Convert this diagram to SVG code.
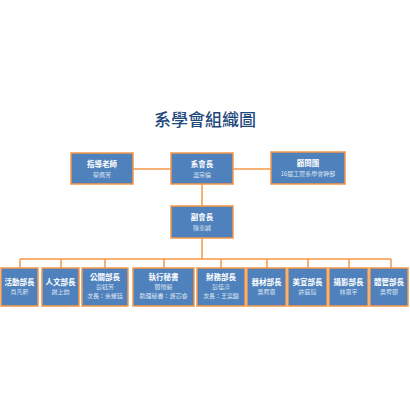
<svg xmlns="http://www.w3.org/2000/svg" width="410" height="410" viewBox="0 0 410 410">
<style>
.box{fill:#4F81BD;stroke:#F79646;stroke-width:1.5}
.t{font-family:"Noto Sans CJK TC","Noto Sans CJK SC",sans-serif;fill:#fff;text-anchor:middle}
.h{font-size:7.5px;font-weight:bold}
.n{font-size:6px;fill:#DCE6F2}
.c{fill:none;stroke:#F79646;stroke-width:1.5}
.title{font-family:"Noto Sans CJK TC","Noto Sans CJK SC",sans-serif;font-size:17px;font-weight:500;fill:#1F497D;text-anchor:middle}
</style>
<rect width="410" height="410" fill="#fff"/>
<text class="title" x="205" y="126">系學會組織圖</text>
<g id="connectors">
<path class="c" d="M133 169H171M233 169H271M202 184V206M202 238V259M20 259H391M20 259V268M61 259V268M105 259V268M164 259V268M221 259V268M267 259V268M308 259V268M349 259V268M391 259V268"/>
</g>
<g id="advisor"><rect class="box" x="71" y="153" width="62" height="31"/><text class="t h" x="102" y="167">指導老師</text><text class="t n" x="102" y="177">蔡佩芳</text></g>
<g id="president"><rect class="box" x="171" y="153" width="62" height="31"/><text class="t h" x="202" y="167">系會長</text><text class="t n" x="202" y="177">溫宗倫</text></g>
<g id="consultants"><rect class="box" x="271" y="152" width="74" height="32"/><text class="t h" x="308" y="166">顧問團</text><text class="t n" x="308" y="176">16屆工管系學會幹部</text></g>
<g id="vice"><rect class="box" x="171" y="206" width="62" height="32"/><text class="t h" x="202" y="220">副會長</text><text class="t n" x="202" y="230">陳泰誠</text></g>
<g id="d1"><rect class="box" x="1" y="268" width="37" height="38"/><text class="t h" x="19.5" y="285">活動部長</text><text class="t n" x="19.5" y="294">肖凡軒</text></g>
<g id="d2"><rect class="box" x="42" y="268" width="37" height="38"/><text class="t h" x="60.5" y="285">人文部長</text><text class="t n" x="60.5" y="294">謝上鈞</text></g>
<g id="d3"><rect class="box" x="82" y="268" width="46" height="38"/><text class="t h" x="105" y="280">公關部長</text><text class="t n" x="105" y="289">彭鈺芳</text><text class="t n" x="105" y="298">次長：余耀廷</text></g>
<g id="d4"><rect class="box" x="133" y="268" width="61" height="38"/><text class="t h" x="163.5" y="280">執行秘書</text><text class="t n" x="163.5" y="289">簡愷毅</text><text class="t n" x="163.5" y="298">助理秘書：游芯睿</text></g>
<g id="d5"><rect class="box" x="197" y="268" width="48" height="38"/><text class="t h" x="221" y="280">財務部長</text><text class="t n" x="221" y="289">彭佳淳</text><text class="t n" x="221" y="298">次長：王奕鑄</text></g>
<g id="d6"><rect class="box" x="247" y="268" width="39" height="38"/><text class="t h" x="266.5" y="285">器材部長</text><text class="t n" x="266.5" y="294">吳宥恩</text></g>
<g id="d7"><rect class="box" x="288" y="268" width="39" height="38"/><text class="t h" x="307.5" y="285">美宣部長</text><text class="t n" x="307.5" y="294">許庭瑄</text></g>
<g id="d8"><rect class="box" x="329" y="268" width="39" height="38"/><text class="t h" x="348.5" y="285">攝影部長</text><text class="t n" x="348.5" y="294">林恩宇</text></g>
<g id="d9"><rect class="box" x="370" y="268" width="38" height="38"/><text class="t h" x="389" y="285">體管部長</text><text class="t n" x="389" y="294">吳宥頤</text></g>
</svg>
